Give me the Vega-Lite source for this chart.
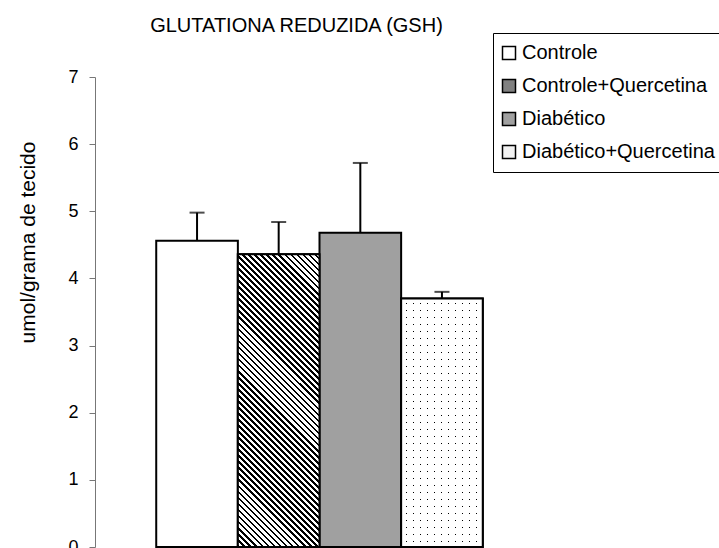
{
  "$schema": "https://vega.github.io/schema/vega-lite/v6.json",
  "autosize": {"type": "none"},
  "width": 449,
  "height": 470,
  "padding": {"left": 95, "top": 77, "right": 175, "bottom": 1},
  "background": "white",
  "config": {
    "view": {"stroke": null},
    "font": "Liberation Sans",
    "legend": {
      "orient": "none",
      "legendX": 398,
      "legendY": -44,
      "padding": 10,
      "strokeColor": "black",
      "strokeWidth": 1,
      "fillColor": "white",
      "labelFont": "Liberation Sans",
      "labelFontSize": 20,
      "labelColor": "black",
      "labelOffset": 3,
      "labelLimit": 400,
      "symbolType": "square",
      "symbolSize": 169,
      "symbolOffset": -4,
      "rowPadding": 13
    }
  },
  "title": {
    "text": "GLUTATIONA REDUZIDA (GSH)",
    "font": "Liberation Sans",
    "fontSize": 20,
    "fontWeight": "normal",
    "color": "black",
    "anchor": "middle",
    "dx": -23,
    "offset": -3
  },
  "data": {
    "values": [
      {"grupo": "Controle", "media": 4.56, "superior": 4.98},
      {"grupo": "Controle+Quercetina", "media": 4.36, "superior": 4.84},
      {"grupo": "Diabético", "media": 4.68, "superior": 5.72},
      {"grupo": "Diabético+Quercetina", "media": 3.70, "superior": 3.80}
    ]
  },
  "encoding": {
    "x": {
      "field": "grupo",
      "type": "nominal",
      "sort": null,
      "scale": {"paddingInner": 0, "paddingOuter": 0.75},
      "axis": null
    }
  },
  "layer": [
    {
      "mark": {"type": "bar", "stroke": "black", "strokeWidth": 2},
      "encoding": {
        "y": {
          "field": "media",
          "type": "quantitative",
          "scale": {"domain": [0, 7], "nice": false},
          "axis": {
            "values": [0, 1, 2, 3, 4, 5, 6, 7],
            "format": "d",
            "grid": false,
            "domainColor": "#777777",
            "domainWidth": 1,
            "tickColor": "#777777",
            "tickSize": 6,
            "labelFont": "Liberation Sans",
            "labelFontSize": 18,
            "labelColor": "black",
            "labelPadding": 11,
            "title": "umol/grama de tecido",
            "titleFont": "Liberation Sans",
            "titleFontSize": 21,
            "titleFontWeight": "normal",
            "titleColor": "black",
            "titleAngle": -90,
            "titleAlign": "center",
            "titleBaseline": "middle",
            "titleX": -67,
            "titleY": 165
          }
        },
        "fill": {
          "field": "grupo",
          "type": "nominal",
          "sort": null,
          "scale": {
            "domain": ["Controle", "Controle+Quercetina", "Diabético", "Diabético+Quercetina"],
            "range": ["white", "#808080", "#a0a0a0", "#f2f2f2"]
          },
          "legend": {
            "title": null,
            "encode": {
              "symbols": {
                "stroke": {"value": "black"},
                "strokeWidth": {"value": 1.5},
                "fill": {
                  "condition": [
                    {"test": "datum.value === 'Controle+Quercetina'", "value": {"gradient": "linear", "x1": 0, "y1": 1, "x2": 1, "y2": 0, "stops": [
                      {"offset": 0, "color": "#000"}, {"offset": 0.1125, "color": "#000"}, {"offset": 0.1125, "color": "#fff"}, {"offset": 0.25, "color": "#fff"},
                      {"offset": 0.25, "color": "#000"}, {"offset": 0.3625, "color": "#000"}, {"offset": 0.3625, "color": "#fff"}, {"offset": 0.5, "color": "#fff"},
                      {"offset": 0.5, "color": "#000"}, {"offset": 0.6125, "color": "#000"}, {"offset": 0.6125, "color": "#fff"}, {"offset": 0.75, "color": "#fff"},
                      {"offset": 0.75, "color": "#000"}, {"offset": 0.8625, "color": "#000"}, {"offset": 0.8625, "color": "#fff"}, {"offset": 1, "color": "#fff"}
                    ]}},
                    {"test": "datum.value === 'Diabético'", "value": "#a0a0a0"},
                    {"test": "datum.value === 'Diabético+Quercetina'", "value": "white"}
                  ],
                  "value": "white"
                }
              }
            }
          }
        }
      }
    },
    {
      "transform": [{"filter": "datum.grupo === 'Controle+Quercetina'"}],
      "mark": {
        "type": "bar",
        "stroke": "black",
        "strokeWidth": 2,
        "fill": {"gradient": "linear", "x1": 0, "y1": 1, "x2": 0.3308, "y2": -0.1866, "stops": [
          {"offset": 0, "color": "#000"}, {"offset": 0.0073, "color": "#000"}, {"offset": 0.0073, "color": "#fff"}, {"offset": 0.0161, "color": "#fff"},
          {"offset": 0.0161, "color": "#000"}, {"offset": 0.0234, "color": "#000"}, {"offset": 0.0234, "color": "#fff"}, {"offset": 0.0323, "color": "#fff"},
          {"offset": 0.0323, "color": "#000"}, {"offset": 0.0396, "color": "#000"}, {"offset": 0.0396, "color": "#fff"}, {"offset": 0.0484, "color": "#fff"},
          {"offset": 0.0484, "color": "#000"}, {"offset": 0.0557, "color": "#000"}, {"offset": 0.0557, "color": "#fff"}, {"offset": 0.0645, "color": "#fff"},
          {"offset": 0.0645, "color": "#000"}, {"offset": 0.0718, "color": "#000"}, {"offset": 0.0718, "color": "#fff"}, {"offset": 0.0806, "color": "#fff"},
          {"offset": 0.0806, "color": "#000"}, {"offset": 0.0879, "color": "#000"}, {"offset": 0.0879, "color": "#fff"}, {"offset": 0.0968, "color": "#fff"},
          {"offset": 0.0968, "color": "#000"}, {"offset": 0.1040, "color": "#000"}, {"offset": 0.1040, "color": "#fff"}, {"offset": 0.1129, "color": "#fff"},
          {"offset": 0.1129, "color": "#000"}, {"offset": 0.1202, "color": "#000"}, {"offset": 0.1202, "color": "#fff"}, {"offset": 0.1290, "color": "#fff"},
          {"offset": 0.1290, "color": "#000"}, {"offset": 0.1363, "color": "#000"}, {"offset": 0.1363, "color": "#fff"}, {"offset": 0.1452, "color": "#fff"},
          {"offset": 0.1452, "color": "#000"}, {"offset": 0.1524, "color": "#000"}, {"offset": 0.1524, "color": "#fff"}, {"offset": 0.1613, "color": "#fff"},
          {"offset": 0.1613, "color": "#000"}, {"offset": 0.1685, "color": "#000"}, {"offset": 0.1685, "color": "#fff"}, {"offset": 0.1774, "color": "#fff"},
          {"offset": 0.1774, "color": "#000"}, {"offset": 0.1847, "color": "#000"}, {"offset": 0.1847, "color": "#fff"}, {"offset": 0.1935, "color": "#fff"},
          {"offset": 0.1935, "color": "#000"}, {"offset": 0.2008, "color": "#000"}, {"offset": 0.2008, "color": "#fff"}, {"offset": 0.2097, "color": "#fff"},
          {"offset": 0.2097, "color": "#000"}, {"offset": 0.2169, "color": "#000"}, {"offset": 0.2169, "color": "#fff"}, {"offset": 0.2258, "color": "#fff"},
          {"offset": 0.2258, "color": "#000"}, {"offset": 0.2331, "color": "#000"}, {"offset": 0.2331, "color": "#fff"}, {"offset": 0.2419, "color": "#fff"},
          {"offset": 0.2419, "color": "#000"}, {"offset": 0.2492, "color": "#000"}, {"offset": 0.2492, "color": "#fff"}, {"offset": 0.2581, "color": "#fff"},
          {"offset": 0.2581, "color": "#000"}, {"offset": 0.2653, "color": "#000"}, {"offset": 0.2653, "color": "#fff"}, {"offset": 0.2742, "color": "#fff"},
          {"offset": 0.2742, "color": "#000"}, {"offset": 0.2815, "color": "#000"}, {"offset": 0.2815, "color": "#fff"}, {"offset": 0.2903, "color": "#fff"},
          {"offset": 0.2903, "color": "#000"}, {"offset": 0.2976, "color": "#000"}, {"offset": 0.2976, "color": "#fff"}, {"offset": 0.3065, "color": "#fff"},
          {"offset": 0.3065, "color": "#000"}, {"offset": 0.3137, "color": "#000"}, {"offset": 0.3137, "color": "#fff"}, {"offset": 0.3226, "color": "#fff"},
          {"offset": 0.3226, "color": "#000"}, {"offset": 0.3298, "color": "#000"}, {"offset": 0.3298, "color": "#fff"}, {"offset": 0.3387, "color": "#fff"},
          {"offset": 0.3387, "color": "#000"}, {"offset": 0.3460, "color": "#000"}, {"offset": 0.3460, "color": "#fff"}, {"offset": 0.3548, "color": "#fff"},
          {"offset": 0.3548, "color": "#000"}, {"offset": 0.3621, "color": "#000"}, {"offset": 0.3621, "color": "#fff"}, {"offset": 0.3710, "color": "#fff"},
          {"offset": 0.3710, "color": "#000"}, {"offset": 0.3782, "color": "#000"}, {"offset": 0.3782, "color": "#fff"}, {"offset": 0.3871, "color": "#fff"},
          {"offset": 0.3871, "color": "#000"}, {"offset": 0.3944, "color": "#000"}, {"offset": 0.3944, "color": "#fff"}, {"offset": 0.4032, "color": "#fff"},
          {"offset": 0.4032, "color": "#000"}, {"offset": 0.4105, "color": "#000"}, {"offset": 0.4105, "color": "#fff"}, {"offset": 0.4194, "color": "#fff"},
          {"offset": 0.4194, "color": "#000"}, {"offset": 0.4266, "color": "#000"}, {"offset": 0.4266, "color": "#fff"}, {"offset": 0.4355, "color": "#fff"},
          {"offset": 0.4355, "color": "#000"}, {"offset": 0.4427, "color": "#000"}, {"offset": 0.4427, "color": "#fff"}, {"offset": 0.4516, "color": "#fff"},
          {"offset": 0.4516, "color": "#000"}, {"offset": 0.4589, "color": "#000"}, {"offset": 0.4589, "color": "#fff"}, {"offset": 0.4677, "color": "#fff"},
          {"offset": 0.4677, "color": "#000"}, {"offset": 0.4750, "color": "#000"}, {"offset": 0.4750, "color": "#fff"}, {"offset": 0.4839, "color": "#fff"},
          {"offset": 0.4839, "color": "#000"}, {"offset": 0.4911, "color": "#000"}, {"offset": 0.4911, "color": "#fff"}, {"offset": 0.5000, "color": "#fff"},
          {"offset": 0.5000, "color": "#000"}, {"offset": 0.5073, "color": "#000"}, {"offset": 0.5073, "color": "#fff"}, {"offset": 0.5161, "color": "#fff"},
          {"offset": 0.5161, "color": "#000"}, {"offset": 0.5234, "color": "#000"}, {"offset": 0.5234, "color": "#fff"}, {"offset": 0.5323, "color": "#fff"},
          {"offset": 0.5323, "color": "#000"}, {"offset": 0.5395, "color": "#000"}, {"offset": 0.5395, "color": "#fff"}, {"offset": 0.5484, "color": "#fff"},
          {"offset": 0.5484, "color": "#000"}, {"offset": 0.5556, "color": "#000"}, {"offset": 0.5556, "color": "#fff"}, {"offset": 0.5645, "color": "#fff"},
          {"offset": 0.5645, "color": "#000"}, {"offset": 0.5718, "color": "#000"}, {"offset": 0.5718, "color": "#fff"}, {"offset": 0.5806, "color": "#fff"},
          {"offset": 0.5806, "color": "#000"}, {"offset": 0.5879, "color": "#000"}, {"offset": 0.5879, "color": "#fff"}, {"offset": 0.5968, "color": "#fff"},
          {"offset": 0.5968, "color": "#000"}, {"offset": 0.6040, "color": "#000"}, {"offset": 0.6040, "color": "#fff"}, {"offset": 0.6129, "color": "#fff"},
          {"offset": 0.6129, "color": "#000"}, {"offset": 0.6202, "color": "#000"}, {"offset": 0.6202, "color": "#fff"}, {"offset": 0.6290, "color": "#fff"},
          {"offset": 0.6290, "color": "#000"}, {"offset": 0.6363, "color": "#000"}, {"offset": 0.6363, "color": "#fff"}, {"offset": 0.6452, "color": "#fff"},
          {"offset": 0.6452, "color": "#000"}, {"offset": 0.6524, "color": "#000"}, {"offset": 0.6524, "color": "#fff"}, {"offset": 0.6613, "color": "#fff"},
          {"offset": 0.6613, "color": "#000"}, {"offset": 0.6685, "color": "#000"}, {"offset": 0.6685, "color": "#fff"}, {"offset": 0.6774, "color": "#fff"},
          {"offset": 0.6774, "color": "#000"}, {"offset": 0.6847, "color": "#000"}, {"offset": 0.6847, "color": "#fff"}, {"offset": 0.6935, "color": "#fff"},
          {"offset": 0.6935, "color": "#000"}, {"offset": 0.7008, "color": "#000"}, {"offset": 0.7008, "color": "#fff"}, {"offset": 0.7097, "color": "#fff"},
          {"offset": 0.7097, "color": "#000"}, {"offset": 0.7169, "color": "#000"}, {"offset": 0.7169, "color": "#fff"}, {"offset": 0.7258, "color": "#fff"},
          {"offset": 0.7258, "color": "#000"}, {"offset": 0.7331, "color": "#000"}, {"offset": 0.7331, "color": "#fff"}, {"offset": 0.7419, "color": "#fff"},
          {"offset": 0.7419, "color": "#000"}, {"offset": 0.7492, "color": "#000"}, {"offset": 0.7492, "color": "#fff"}, {"offset": 0.7581, "color": "#fff"},
          {"offset": 0.7581, "color": "#000"}, {"offset": 0.7653, "color": "#000"}, {"offset": 0.7653, "color": "#fff"}, {"offset": 0.7742, "color": "#fff"},
          {"offset": 0.7742, "color": "#000"}, {"offset": 0.7815, "color": "#000"}, {"offset": 0.7815, "color": "#fff"}, {"offset": 0.7903, "color": "#fff"},
          {"offset": 0.7903, "color": "#000"}, {"offset": 0.7976, "color": "#000"}, {"offset": 0.7976, "color": "#fff"}, {"offset": 0.8065, "color": "#fff"},
          {"offset": 0.8065, "color": "#000"}, {"offset": 0.8137, "color": "#000"}, {"offset": 0.8137, "color": "#fff"}, {"offset": 0.8226, "color": "#fff"},
          {"offset": 0.8226, "color": "#000"}, {"offset": 0.8298, "color": "#000"}, {"offset": 0.8298, "color": "#fff"}, {"offset": 0.8387, "color": "#fff"},
          {"offset": 0.8387, "color": "#000"}, {"offset": 0.8460, "color": "#000"}, {"offset": 0.8460, "color": "#fff"}, {"offset": 0.8548, "color": "#fff"},
          {"offset": 0.8548, "color": "#000"}, {"offset": 0.8621, "color": "#000"}, {"offset": 0.8621, "color": "#fff"}, {"offset": 0.8710, "color": "#fff"},
          {"offset": 0.8710, "color": "#000"}, {"offset": 0.8782, "color": "#000"}, {"offset": 0.8782, "color": "#fff"}, {"offset": 0.8871, "color": "#fff"},
          {"offset": 0.8871, "color": "#000"}, {"offset": 0.8944, "color": "#000"}, {"offset": 0.8944, "color": "#fff"}, {"offset": 0.9032, "color": "#fff"},
          {"offset": 0.9032, "color": "#000"}, {"offset": 0.9105, "color": "#000"}, {"offset": 0.9105, "color": "#fff"}, {"offset": 0.9194, "color": "#fff"},
          {"offset": 0.9194, "color": "#000"}, {"offset": 0.9266, "color": "#000"}, {"offset": 0.9266, "color": "#fff"}, {"offset": 0.9355, "color": "#fff"},
          {"offset": 0.9355, "color": "#000"}, {"offset": 0.9427, "color": "#000"}, {"offset": 0.9427, "color": "#fff"}, {"offset": 0.9516, "color": "#fff"},
          {"offset": 0.9516, "color": "#000"}, {"offset": 0.9589, "color": "#000"}, {"offset": 0.9589, "color": "#fff"}, {"offset": 0.9677, "color": "#fff"},
          {"offset": 0.9677, "color": "#000"}, {"offset": 0.9750, "color": "#000"}, {"offset": 0.9750, "color": "#fff"}, {"offset": 0.9839, "color": "#fff"},
          {"offset": 0.9839, "color": "#000"}, {"offset": 0.9911, "color": "#000"}, {"offset": 0.9911, "color": "#fff"}, {"offset": 1, "color": "#fff"}
        ]}
      },
      "encoding": {
        "y": {"field": "media", "type": "quantitative"}
      }
    },
    {
      "transform": [{"filter": "datum.grupo === 'Diabético+Quercetina'"}],
      "mark": {
        "type": "bar",
        "strokeWidth": 0,
        "fill": {"gradient": "linear", "x1": 0, "y1": 0, "x2": 0, "y2": 1, "stops": [
          {"offset": 0, "color": "#fff"},
          {"offset": 0.01783, "color": "#fff"}, {"offset": 0.01783, "color": "#000"}, {"offset": 0.02186, "color": "#000"}, {"offset": 0.02186, "color": "#fff"},
          {"offset": 0.04601, "color": "#fff"}, {"offset": 0.04601, "color": "#000"}, {"offset": 0.05004, "color": "#000"}, {"offset": 0.05004, "color": "#fff"},
          {"offset": 0.07419, "color": "#fff"}, {"offset": 0.07419, "color": "#000"}, {"offset": 0.07822, "color": "#000"}, {"offset": 0.07822, "color": "#fff"},
          {"offset": 0.10236, "color": "#fff"}, {"offset": 0.10236, "color": "#000"}, {"offset": 0.10639, "color": "#000"}, {"offset": 0.10639, "color": "#fff"},
          {"offset": 0.13054, "color": "#fff"}, {"offset": 0.13054, "color": "#000"}, {"offset": 0.13457, "color": "#000"}, {"offset": 0.13457, "color": "#fff"},
          {"offset": 0.15872, "color": "#fff"}, {"offset": 0.15872, "color": "#000"}, {"offset": 0.16275, "color": "#000"}, {"offset": 0.16275, "color": "#fff"},
          {"offset": 0.18689, "color": "#fff"}, {"offset": 0.18689, "color": "#000"}, {"offset": 0.19092, "color": "#000"}, {"offset": 0.19092, "color": "#fff"},
          {"offset": 0.21507, "color": "#fff"}, {"offset": 0.21507, "color": "#000"}, {"offset": 0.21910, "color": "#000"}, {"offset": 0.21910, "color": "#fff"},
          {"offset": 0.24325, "color": "#fff"}, {"offset": 0.24325, "color": "#000"}, {"offset": 0.24728, "color": "#000"}, {"offset": 0.24728, "color": "#fff"},
          {"offset": 0.27142, "color": "#fff"}, {"offset": 0.27142, "color": "#000"}, {"offset": 0.27545, "color": "#000"}, {"offset": 0.27545, "color": "#fff"},
          {"offset": 0.29960, "color": "#fff"}, {"offset": 0.29960, "color": "#000"}, {"offset": 0.30363, "color": "#000"}, {"offset": 0.30363, "color": "#fff"},
          {"offset": 0.32778, "color": "#fff"}, {"offset": 0.32778, "color": "#000"}, {"offset": 0.33181, "color": "#000"}, {"offset": 0.33181, "color": "#fff"},
          {"offset": 0.35596, "color": "#fff"}, {"offset": 0.35596, "color": "#000"}, {"offset": 0.35999, "color": "#000"}, {"offset": 0.35999, "color": "#fff"},
          {"offset": 0.38413, "color": "#fff"}, {"offset": 0.38413, "color": "#000"}, {"offset": 0.38816, "color": "#000"}, {"offset": 0.38816, "color": "#fff"},
          {"offset": 0.41231, "color": "#fff"}, {"offset": 0.41231, "color": "#000"}, {"offset": 0.41634, "color": "#000"}, {"offset": 0.41634, "color": "#fff"},
          {"offset": 0.44049, "color": "#fff"}, {"offset": 0.44049, "color": "#000"}, {"offset": 0.44452, "color": "#000"}, {"offset": 0.44452, "color": "#fff"},
          {"offset": 0.46866, "color": "#fff"}, {"offset": 0.46866, "color": "#000"}, {"offset": 0.47269, "color": "#000"}, {"offset": 0.47269, "color": "#fff"},
          {"offset": 0.49684, "color": "#fff"}, {"offset": 0.49684, "color": "#000"}, {"offset": 0.50087, "color": "#000"}, {"offset": 0.50087, "color": "#fff"},
          {"offset": 0.52502, "color": "#fff"}, {"offset": 0.52502, "color": "#000"}, {"offset": 0.52905, "color": "#000"}, {"offset": 0.52905, "color": "#fff"},
          {"offset": 0.55319, "color": "#fff"}, {"offset": 0.55319, "color": "#000"}, {"offset": 0.55722, "color": "#000"}, {"offset": 0.55722, "color": "#fff"},
          {"offset": 0.58137, "color": "#fff"}, {"offset": 0.58137, "color": "#000"}, {"offset": 0.58540, "color": "#000"}, {"offset": 0.58540, "color": "#fff"},
          {"offset": 0.60955, "color": "#fff"}, {"offset": 0.60955, "color": "#000"}, {"offset": 0.61358, "color": "#000"}, {"offset": 0.61358, "color": "#fff"},
          {"offset": 0.63773, "color": "#fff"}, {"offset": 0.63773, "color": "#000"}, {"offset": 0.64176, "color": "#000"}, {"offset": 0.64176, "color": "#fff"},
          {"offset": 0.66590, "color": "#fff"}, {"offset": 0.66590, "color": "#000"}, {"offset": 0.66993, "color": "#000"}, {"offset": 0.66993, "color": "#fff"},
          {"offset": 0.69408, "color": "#fff"}, {"offset": 0.69408, "color": "#000"}, {"offset": 0.69811, "color": "#000"}, {"offset": 0.69811, "color": "#fff"},
          {"offset": 0.72226, "color": "#fff"}, {"offset": 0.72226, "color": "#000"}, {"offset": 0.72629, "color": "#000"}, {"offset": 0.72629, "color": "#fff"},
          {"offset": 0.75043, "color": "#fff"}, {"offset": 0.75043, "color": "#000"}, {"offset": 0.75446, "color": "#000"}, {"offset": 0.75446, "color": "#fff"},
          {"offset": 0.77861, "color": "#fff"}, {"offset": 0.77861, "color": "#000"}, {"offset": 0.78264, "color": "#000"}, {"offset": 0.78264, "color": "#fff"},
          {"offset": 0.80679, "color": "#fff"}, {"offset": 0.80679, "color": "#000"}, {"offset": 0.81082, "color": "#000"}, {"offset": 0.81082, "color": "#fff"},
          {"offset": 0.83496, "color": "#fff"}, {"offset": 0.83496, "color": "#000"}, {"offset": 0.83899, "color": "#000"}, {"offset": 0.83899, "color": "#fff"},
          {"offset": 0.86314, "color": "#fff"}, {"offset": 0.86314, "color": "#000"}, {"offset": 0.86717, "color": "#000"}, {"offset": 0.86717, "color": "#fff"},
          {"offset": 0.89132, "color": "#fff"}, {"offset": 0.89132, "color": "#000"}, {"offset": 0.89535, "color": "#000"}, {"offset": 0.89535, "color": "#fff"},
          {"offset": 0.91950, "color": "#fff"}, {"offset": 0.91950, "color": "#000"}, {"offset": 0.92353, "color": "#000"}, {"offset": 0.92353, "color": "#fff"},
          {"offset": 0.94767, "color": "#fff"}, {"offset": 0.94767, "color": "#000"}, {"offset": 0.95170, "color": "#000"}, {"offset": 0.95170, "color": "#fff"},
          {"offset": 0.97585, "color": "#fff"}, {"offset": 0.97585, "color": "#000"}, {"offset": 0.97988, "color": "#000"}, {"offset": 0.97988, "color": "#fff"},
          {"offset": 1, "color": "#fff"}
        ]}
      },
      "encoding": {
        "y": {"field": "media", "type": "quantitative"}
      }
    },
    {
      "transform": [{"filter": "datum.grupo === 'Diabético+Quercetina'"}],
      "mark": {
        "type": "bar",
        "stroke": "black",
        "strokeWidth": 2,
        "fill": {"gradient": "linear", "x1": 0, "y1": 0, "x2": 1, "y2": 0, "stops": [
          {"offset": 0, "color": "#fff"},
          {"offset": 0.06002, "color": "#fff"}, {"offset": 0.06002, "color": "rgba(255,255,255,0)"}, {"offset": 0.07227, "color": "rgba(255,255,255,0)"}, {"offset": 0.07227, "color": "#fff"},
          {"offset": 0.14577, "color": "#fff"}, {"offset": 0.14577, "color": "rgba(255,255,255,0)"}, {"offset": 0.15802, "color": "rgba(255,255,255,0)"}, {"offset": 0.15802, "color": "#fff"},
          {"offset": 0.23151, "color": "#fff"}, {"offset": 0.23151, "color": "rgba(255,255,255,0)"}, {"offset": 0.24376, "color": "rgba(255,255,255,0)"}, {"offset": 0.24376, "color": "#fff"},
          {"offset": 0.31726, "color": "#fff"}, {"offset": 0.31726, "color": "rgba(255,255,255,0)"}, {"offset": 0.32951, "color": "rgba(255,255,255,0)"}, {"offset": 0.32951, "color": "#fff"},
          {"offset": 0.40300, "color": "#fff"}, {"offset": 0.40300, "color": "rgba(255,255,255,0)"}, {"offset": 0.41525, "color": "rgba(255,255,255,0)"}, {"offset": 0.41525, "color": "#fff"},
          {"offset": 0.48875, "color": "#fff"}, {"offset": 0.48875, "color": "rgba(255,255,255,0)"}, {"offset": 0.50100, "color": "rgba(255,255,255,0)"}, {"offset": 0.50100, "color": "#fff"},
          {"offset": 0.57449, "color": "#fff"}, {"offset": 0.57449, "color": "rgba(255,255,255,0)"}, {"offset": 0.58674, "color": "rgba(255,255,255,0)"}, {"offset": 0.58674, "color": "#fff"},
          {"offset": 0.66024, "color": "#fff"}, {"offset": 0.66024, "color": "rgba(255,255,255,0)"}, {"offset": 0.67249, "color": "rgba(255,255,255,0)"}, {"offset": 0.67249, "color": "#fff"},
          {"offset": 0.74598, "color": "#fff"}, {"offset": 0.74598, "color": "rgba(255,255,255,0)"}, {"offset": 0.75823, "color": "rgba(255,255,255,0)"}, {"offset": 0.75823, "color": "#fff"},
          {"offset": 0.83173, "color": "#fff"}, {"offset": 0.83173, "color": "rgba(255,255,255,0)"}, {"offset": 0.84398, "color": "rgba(255,255,255,0)"}, {"offset": 0.84398, "color": "#fff"},
          {"offset": 0.91747, "color": "#fff"}, {"offset": 0.91747, "color": "rgba(255,255,255,0)"}, {"offset": 0.92972, "color": "rgba(255,255,255,0)"}, {"offset": 0.92972, "color": "#fff"},
          {"offset": 1, "color": "#fff"}
        ]}
      },
      "encoding": {
        "y": {"field": "media", "type": "quantitative"}
      }
    },
    {
      "mark": {"type": "rule", "color": "black", "strokeWidth": 2},
      "encoding": {
        "y": {"field": "media", "type": "quantitative"},
        "y2": {"field": "superior"}
      }
    },
    {
      "mark": {"type": "tick", "color": "black", "thickness": 2, "size": 15},
      "encoding": {
        "y": {"field": "superior", "type": "quantitative"}
      }
    }
  ]
}
